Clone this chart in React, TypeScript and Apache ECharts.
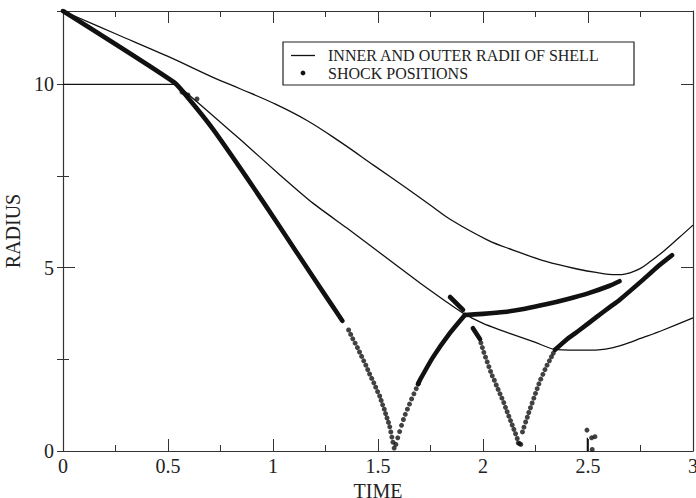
import React, { useEffect, useRef } from "react";
import * as echarts from "echarts";

const xTicks = { min: 0, max: 3, interval: 0.5 };
const yTicks = { min: 0, max: 12, interval: 5, minorInterval: 2.5 };

const outerRadius: [number, number][] = [
  [0, 12], [0.25, 11.38], [0.5, 10.76], [0.714, 10.19], [0.843, 9.88], [1.0, 9.49],
  [1.16, 9.02], [1.32, 8.43], [1.48, 7.79], [1.64, 7.15], [1.75, 6.7], [1.843, 6.32],
  [2.02, 5.76], [2.143, 5.48], [2.3, 5.17], [2.46, 4.95], [2.55, 4.86], [2.62, 4.81],
  [2.66, 4.81], [2.7, 4.86], [2.75, 4.98], [2.8, 5.18], [2.86, 5.45], [2.93, 5.8],
  [3.0, 6.16],
];

const innerRadius: [number, number][] = [
  [0, 10], [0.53, 10], [0.59, 9.76], [0.843, 8.5], [1.033, 7.53], [1.19, 6.76],
  [1.352, 6.08], [1.51, 5.4], [1.7, 4.58], [1.83, 4.05], [1.905, 3.76], [2.0, 3.48],
  [2.12, 3.22], [2.25, 2.96], [2.34, 2.77], [2.45, 2.75], [2.55, 2.76], [2.62, 2.82],
  [2.68, 2.92], [2.75, 3.07], [2.85, 3.28], [3.0, 3.63],
];

const innerStub: [number, number][] = [[2.497, 0], [2.497, 0.36]];

const shockTrackA: [number, number][] = [
  [0, 12], [0.53, 10.05], [0.6, 9.6], [0.714, 8.78], [0.876, 7.45], [1.033, 6.11],
  [1.19, 4.75], [1.286, 3.93], [1.33, 3.55],
];
const shockTrackB: [number, number][] = [
  [1.69, 1.82], [1.7, 1.94], [1.762, 2.56], [1.843, 3.22], [1.914, 3.71],
];
const shockTrackC: [number, number][] = [
  [1.914, 3.71], [2.0, 3.74], [2.1, 3.79], [2.2, 3.88], [2.3, 4.0], [2.4, 4.14],
  [2.5, 4.3], [2.6, 4.5], [2.65, 4.63],
];
const shockTrackD: [number, number][] = [[1.843, 4.2], [1.905, 3.85]];
const shockTrackE: [number, number][] = [[1.952, 3.35], [1.986, 3.05]];
const shockTrackF: [number, number][] = [
  [2.343, 2.76], [2.4, 3.05], [2.46, 3.3], [2.54, 3.65], [2.605, 3.93], [2.65, 4.12],
  [2.76, 4.66], [2.83, 5.02], [2.9, 5.34],
];

const shockDots: [number, number][] = [
  // small cluster after first contact
  [0.567, 9.79], [0.595, 9.71], [0.638, 9.6],
  // first implosion, inward
  [1.36, 3.3], [1.37, 3.18], [1.38, 3.06], [1.391, 2.94], [1.402, 2.82], [1.412, 2.7],
  [1.422, 2.58], [1.432, 2.46], [1.442, 2.34], [1.451, 2.22], [1.46, 2.1], [1.47, 1.98],
  [1.48, 1.86], [1.489, 1.74], [1.498, 1.62], [1.508, 1.5], [1.515, 1.38], [1.522, 1.26],
  [1.53, 1.14], [1.536, 1.02], [1.543, 0.9], [1.55, 0.78], [1.556, 0.66], [1.561, 0.52],
  [1.566, 0.38], [1.571, 0.24], [1.577, 0.08],
  // first reflection, outward
  [1.585, 0.18], [1.594, 0.36], [1.603, 0.53], [1.612, 0.7], [1.621, 0.86], [1.63, 1.0],
  [1.64, 1.14], [1.65, 1.28], [1.66, 1.42], [1.671, 1.56], [1.682, 1.7], [1.693, 1.84],
  // second implosion, inward
  [1.99, 2.95], [1.997, 2.82], [2.004, 2.69], [2.012, 2.56], [2.02, 2.43], [2.028, 2.3],
  [2.036, 2.17], [2.044, 2.05], [2.054, 1.93], [2.063, 1.8], [2.072, 1.68], [2.081, 1.56],
  [2.09, 1.44], [2.099, 1.32], [2.107, 1.19], [2.115, 1.07], [2.123, 0.95], [2.131, 0.83],
  [2.139, 0.71], [2.147, 0.59], [2.155, 0.47], [2.163, 0.34], [2.168, 0.22], [2.174, 0.2],
  [2.18, 0.18],
  // second reflection, outward
  [2.188, 0.52], [2.195, 0.65], [2.203, 0.79], [2.211, 0.92], [2.218, 1.05], [2.226, 1.18],
  [2.234, 1.31], [2.242, 1.44], [2.25, 1.57], [2.258, 1.7], [2.266, 1.83], [2.275, 1.96],
  [2.285, 2.09], [2.295, 2.22], [2.305, 2.34], [2.316, 2.46], [2.326, 2.57], [2.335, 2.67],
  // late cluster near the centre
  [2.495, 0.57], [2.517, 0.36], [2.533, 0.39], [2.52, 0.04],
];

const legendLabels = ["INNER AND OUTER RADII OF SHELL", "SHOCK POSITIONS"];
const axisNames = { x: "TIME", y: "RADIUS" };

const FONT = "'Liberation Serif', 'Times New Roman', serif";
const INK = "#111";
const AXIS = "#333";

export default function App() {
  const ref = useRef<HTMLDivElement>(null);
  useEffect(() => {
    document.body.style.margin = "0";
    if (!ref.current) return;
    const chart = echarts.init(ref.current, null, { renderer: "svg" });

    const tickStyle = { color: AXIS, width: 1 };
    const xBase = {
      type: "value" as const,
      min: xTicks.min,
      max: xTicks.max,
      interval: xTicks.interval,
      splitLine: { show: false },
      axisLine: { show: true, onZero: false, lineStyle: { color: AXIS, width: 1.2 } },
      axisTick: { show: true, inside: true, length: 12, lineStyle: tickStyle },
      minorTick: { show: true, splitNumber: 2, length: 6, lineStyle: tickStyle },
      minorSplitLine: { show: false },
    };
    const yMajor = {
      type: "value" as const,
      min: yTicks.min,
      max: yTicks.max,
      interval: yTicks.interval,
      splitLine: { show: false },
      axisLine: { show: true, onZero: false, lineStyle: { color: AXIS, width: 1.2 } },
      axisTick: { show: true, inside: true, length: 12, lineStyle: tickStyle },
    };
    const yMinor = {
      type: "value" as const,
      min: yTicks.min,
      max: yTicks.max,
      interval: yTicks.minorInterval,
      splitLine: { show: false },
      axisLine: { show: false },
      axisLabel: { show: false },
      axisTick: { show: true, inside: true, length: 6, lineStyle: tickStyle },
    };

    const thinLine = (name: string, data: [number, number][], smooth: number) => ({
      type: "line" as const,
      name,
      data,
      showSymbol: false,
      smooth,
      lineStyle: { color: INK, width: 1.3 },
      z: 3,
    });
    const thickTrack = (data: [number, number][]) => ({
      type: "line" as const,
      data,
      showSymbol: false,
      smooth: 0.2,
      lineStyle: { color: INK, width: 4.6, cap: "round" as const, join: "round" as const },
      z: 4,
    });

    chart.setOption({
      animation: false,
      backgroundColor: "#fff",
      grid: {
        left: 63,
        right: 3,
        top: 11,
        bottom: 47,
        containLabel: false,
        outerBoundsMode: "none",
      },
      xAxis: [
        {
          ...xBase,
          position: "bottom",
          name: axisNames.x,
          nameLocation: "middle",
          nameGap: 27,
          nameTextStyle: { fontFamily: FONT, fontSize: 20, lineHeight: 16, color: "#222" },
          axisLabel: { fontFamily: FONT, fontSize: 20, color: "#222", margin: 5 },
        },
        { ...xBase, position: "top", axisLabel: { show: false } },
      ],
      yAxis: [
        {
          ...yMajor,
          position: "left",
          name: axisNames.y,
          nameLocation: "middle",
          nameGap: 36,
          nameTextStyle: { fontFamily: FONT, fontSize: 20, color: "#222" },
          axisLabel: {
            fontFamily: FONT,
            fontSize: 20,
            color: "#222",
            margin: 9,
            formatter: (v: number) => (v % yTicks.interval === 0 ? String(v) : ""),
          },
        },
        { ...yMinor, position: "left" },
        { ...yMajor, position: "right", axisLabel: { show: false } },
        { ...yMinor, position: "right" },
      ],
      series: [
        thinLine("outer", outerRadius, 0.4),
        thinLine("inner", innerRadius, 0.2),
        thinLine("stub", innerStub, 0),
        thickTrack(shockTrackA),
        thickTrack(shockTrackB),
        thickTrack(shockTrackC),
        thickTrack(shockTrackD),
        thickTrack(shockTrackE),
        thickTrack(shockTrackF),
        {
          type: "scatter",
          name: "shock",
          data: shockDots,
          symbol: "circle",
          symbolSize: 5,
          itemStyle: { color: INK },
          z: 5,
        },
      ],
      graphic: [
        {
          type: "rect",
          shape: { x: 283, y: 42, width: 351, height: 43 },
          style: { fill: "#fff", stroke: "#222", lineWidth: 1.2 },
          z: 10,
        },
        {
          type: "line",
          shape: { x1: 291, y1: 55.5, x2: 315, y2: 55.5 },
          style: { stroke: INK, lineWidth: 1.3 },
          z: 11,
        },
        {
          type: "circle",
          shape: { cx: 303, cy: 73, r: 2.4 },
          style: { fill: INK },
          z: 11,
        },
        {
          type: "text",
          x: 328,
          y: 55.5,
          style: {
            text: legendLabels[0],
            font: `16px ${FONT}`,
            fill: "#222",
            verticalAlign: "middle",
          },
          z: 11,
        },
        {
          type: "text",
          x: 328,
          y: 73.5,
          style: {
            text: legendLabels[1],
            font: `16px ${FONT}`,
            fill: "#222",
            verticalAlign: "middle",
          },
          z: 11,
        },
      ],
    });
    return () => chart.dispose();
  }, []);
  return <div ref={ref} style={{ width: 696, height: 498 }} />;
}
